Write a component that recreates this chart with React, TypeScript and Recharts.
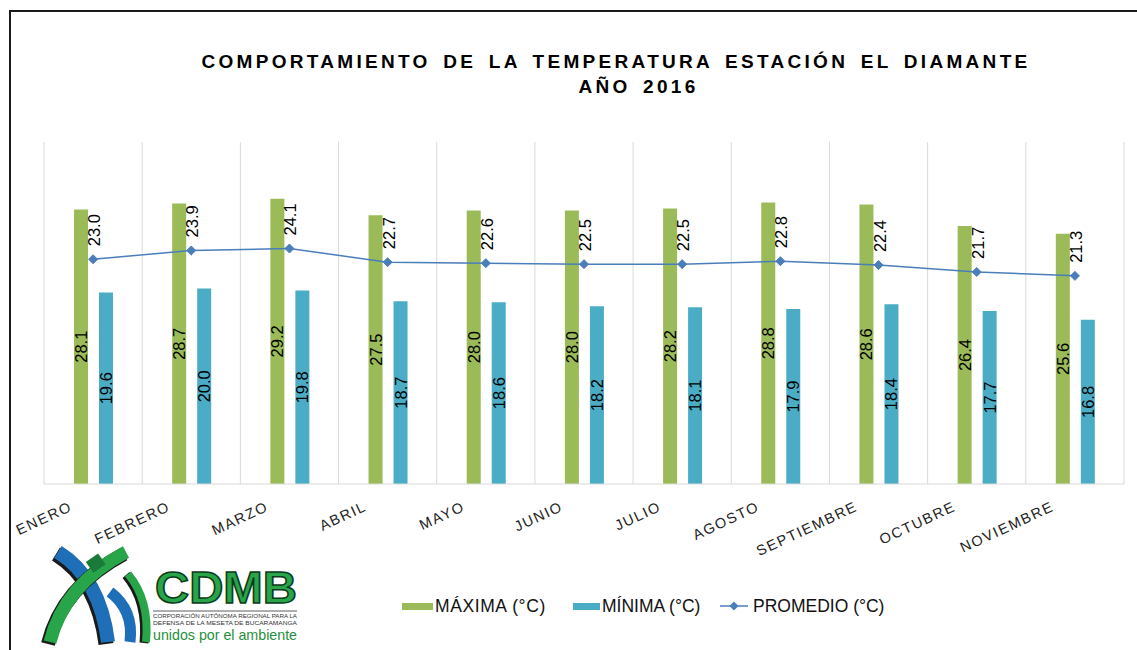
import { ComposedChart, Bar, Line, XAxis, YAxis, CartesianGrid, LabelList } from 'recharts'

const months = ['ENERO', 'FEBRERO', 'MARZO', 'ABRIL', 'MAYO', 'JUNIO', 'JULIO', 'AGOSTO', 'SEPTIEMBRE', 'OCTUBRE', 'NOVIEMBRE']
const maxima = [28.1, 28.7, 29.2, 27.5, 28.0, 28.0, 28.2, 28.8, 28.6, 26.4, 25.6]
const minima = [19.6, 20.0, 19.8, 18.7, 18.6, 18.2, 18.1, 17.9, 18.4, 17.7, 16.8]
const promedio = [23.0, 23.9, 24.1, 22.7, 22.6, 22.5, 22.5, 22.8, 22.4, 21.7, 21.3]

const FONT = '"Liberation Sans", Arial, sans-serif'
const GREEN = '#9bbb59'
const BLUE = '#4bacc6'
const LINE = '#4a7ebb'

const chartData = months.map((mes, i) => ({
  mes,
  maxima: maxima[i],
  minima: minima[i],
  promedio: promedio[i]
}))

function MonthTick({ x, y, payload }: any) {
  return (
    <text
      transform={`translate(${x - 20},${y + 26}) rotate(-25)`}
      textAnchor="end"
      fontFamily={FONT}
      fontSize={14.5}
      letterSpacing={1.6}
      fill="#222"
    >
      {payload.value}
    </text>
  )
}

function BarValue({ x, y, width, height, value }: any) {
  const cx = x + width / 2
  const cy = y + height / 2
  return (
    <text
      transform={`translate(${cx},${cy}) rotate(-90)`}
      textAnchor="middle"
      dominantBaseline="central"
      fontFamily={FONT}
      fontSize={16.5}
      fill="#000"
    >
      {value.toFixed(1)}
    </text>
  )
}

function LineValue({ x, y, value }: any) {
  return (
    <text
      transform={`translate(${x + 1},${y - 13}) rotate(-90)`}
      textAnchor="start"
      dominantBaseline="central"
      fontFamily={FONT}
      fontSize={16.5}
      fill="#000"
    >
      {value.toFixed(1)}
    </text>
  )
}

function Diamond({ cx, cy }: any) {
  if (cx == null || cy == null) return null
  const r = 4.5
  return (
    <polygon
      points={`${cx},${cy - r} ${cx + r},${cy} ${cx},${cy + r} ${cx - r},${cy}`}
      fill={LINE}
      stroke={LINE}
    />
  )
}

function Logo() {
  return (
    <g>
      {/* simbolo */}
      <path d="M 58 552 Q 100 578 108 642" stroke="#1a1a1a" strokeWidth={15} fill="none" transform="translate(-2,2)" />
      <path d="M 58 552 Q 100 578 108 642" stroke="#1f6fb8" strokeWidth={14} fill="none" />
      <path d="M 126 552 Q 64 585 50 642" stroke="#1a1a1a" strokeWidth={14} fill="none" transform="translate(-2,2)" />
      <path d="M 126 552 Q 64 585 50 642" stroke="#27a548" strokeWidth={13} fill="none" />
      <path d="M 110 592 Q 134 610 130 642" stroke="#1f6fb8" strokeWidth={11} fill="none" />
      <path d="M 128 574 Q 150 600 146 642" stroke="#1a1a1a" strokeWidth={9} fill="none" transform="translate(-2,1)" />
      <path d="M 128 574 Q 150 600 146 642" stroke="#27a548" strokeWidth={8} fill="none" />
      <rect x={88} y={557} width={15} height={13} fill="#1a7a3a" transform="rotate(-35 95 563)" />
      {/* texto */}
      <text x={155} y={603} fontFamily={FONT} fontWeight={900} fontSize={44} fill="#27a548" stroke="#0d3b1c" strokeWidth={1.5} textLength={142} lengthAdjust="spacingAndGlyphs">
        CDMB
      </text>
      <line x1={153} x2={297} y1={611} y2={611} stroke="#333" strokeWidth={0.8} />
      <text x={153} y={618} fontFamily={FONT} fontSize={5} fill="#333" textLength={144} lengthAdjust="spacingAndGlyphs">
        CORPORACIÓN AUTÓNOMA REGIONAL PARA LA
      </text>
      <text x={153} y={625} fontFamily={FONT} fontSize={5} fill="#333" textLength={144} lengthAdjust="spacingAndGlyphs">
        DEFENSA DE LA MESETA DE BUCARAMANGA
      </text>
      <text x={153} y={640} fontFamily={FONT} fontSize={15} fill="#1f8f3c" textLength={144} lengthAdjust="spacingAndGlyphs">
        unidos por el ambiente
      </text>
    </g>
  )
}

const legendItems = [
  { label: 'MÁXIMA (°C)', color: GREEN, kind: 'bar', swatch: 31, left: 402 },
  { label: 'MÍNIMA (°C)', color: BLUE, kind: 'bar', swatch: 27, left: 573 },
  { label: 'PROMEDIO (°C)', color: LINE, kind: 'line', swatch: 28, left: 720 }
]

function ChartLegend() {
  return (
    <>
      {legendItems.map((item) => (
        <div
          key={item.label}
          style={{
            position: 'absolute',
            left: item.left,
            top: 595,
            height: 22,
            display: 'flex',
            alignItems: 'center',
            fontFamily: FONT,
            fontSize: 17.5,
            color: '#111',
            whiteSpace: 'nowrap'
          }}
        >
          {item.kind === 'bar' ? (
            <div style={{ width: item.swatch, height: 7, background: item.color, marginRight: 2 }} />
          ) : (
            <svg width={item.swatch} height={10} style={{ marginRight: 5 }}>
              <line x1={0} x2={item.swatch} y1={5} y2={5} stroke={item.color} strokeWidth={1.5} />
              <polygon points={`${item.swatch / 2},0.5 ${item.swatch / 2 + 4.5},5 ${item.swatch / 2},9.5 ${item.swatch / 2 - 4.5},5`} fill={item.color} />
            </svg>
          )}
          <span style={{ letterSpacing: item.kind === 'bar' && item.left < 500 ? 0.6 : 0 }}>{item.label}</span>
        </div>
      ))}
    </>
  )
}

export default function App() {
  const n = months.length
  return (
    <div style={{ position: 'absolute', left: 0, top: 0, width: 1137, height: 650, background: '#fff', overflow: 'hidden' }}>
      <ComposedChart
        width={1137}
        height={650}
        data={chartData}
        margin={{ top: 142, right: 13, bottom: 136, left: 44 }}
        barSize={14}
        barGap={11}
      >
        <CartesianGrid
          horizontal={false}
          stroke="#d9d9d9"
          verticalCoordinatesGenerator={({ offset }: any) =>
            Array.from({ length: n + 1 }, (_, i) => offset.left + (i * offset.width) / n)
          }
        />
        <XAxis
          dataKey="mes"
          height={30}
          interval={0}
          tickLine={false}
          tickSize={0}
          tickMargin={0}
          axisLine={{ stroke: '#d9d9d9' }}
          tick={<MonthTick />}
        />
        <YAxis hide domain={[0, 35]} />
        <Bar dataKey="maxima" fill={GREEN} isAnimationActive={false}>
          <LabelList dataKey="maxima" content={<BarValue />} />
        </Bar>
        <Bar dataKey="minima" fill={BLUE} isAnimationActive={false}>
          <LabelList dataKey="minima" content={<BarValue />} />
        </Bar>
        <Line
          dataKey="promedio"
          stroke={LINE}
          strokeWidth={1.5}
          dot={<Diamond />}
          activeDot={false}
          isAnimationActive={false}
        >
          <LabelList dataKey="promedio" content={<LineValue />} />
        </Line>
      </ComposedChart>

      <svg width={1137} height={650} style={{ position: 'absolute', left: 0, top: 0, pointerEvents: 'none' }}>
        <line x1={9} x2={1137} y1={11} y2={11} stroke="#1a1a1a" strokeWidth={2} />
        <line x1={10} x2={10} y1={10} y2={650} stroke="#1a1a1a" strokeWidth={2} />
        <text x={616} y={68} textAnchor="middle" fontFamily={FONT} fontWeight="bold" fontSize={19} letterSpacing={3.3} wordSpacing={4} fill="#000">
          COMPORTAMIENTO DE LA TEMPERATURA ESTACIÓN EL DIAMANTE
        </text>
        <text x={638.5} y={93} textAnchor="middle" fontFamily={FONT} fontWeight="bold" fontSize={19} letterSpacing={3.3} wordSpacing={4} fill="#000">
          AÑO 2016
        </text>
        <Logo />
      </svg>

      <ChartLegend />
    </div>
  )
}
